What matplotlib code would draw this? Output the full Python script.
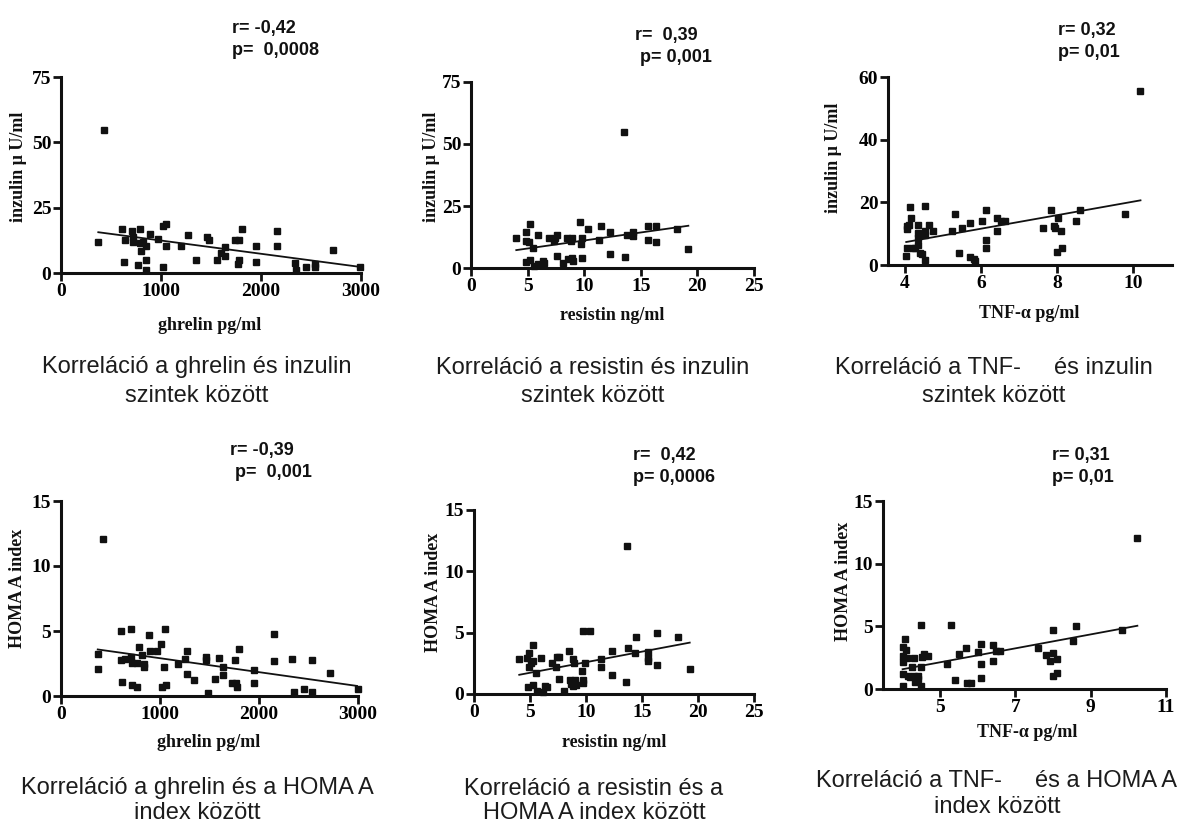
import matplotlib.pyplot as plt
import numpy as np

# ghrelin (pg/ml) vs inzulin
ghr_ins_x = [373, 430, 607, 630, 643, 707, 717, 717, 770, 790, 790, 800, 823, 847, 847, 847,
             890, 973, 1017, 1023, 1050, 1050, 1200, 1267, 1350, 1463, 1483, 1557, 1600, 1640,
             1640, 1740, 1777, 1767, 1783, 1807, 1950, 1950, 2157, 2157, 2337, 2353, 2450,
             2537, 2537, 2723, 2990]
ghr_ins_y = [11.7, 54.9, 17, 4.3, 12.7, 15.9, 13.7, 11.7, 3.0, 17, 11.4, 8.6, 11.7, 10.4, 5.1,
             1.3, 14.9, 13.2, 2.3, 18, 18.6, 10.4, 10.4, 14.5, 5.1, 13.9, 12.7, 5.1, 7.6, 9.9,
             6.4, 12.7, 12.7, 3.3, 5.1, 17, 10.4, 4.4, 16, 10.4, 3.8, 1.3, 2.3, 3.6, 2.3, 8.9, 2.3]

# resistin (ng/ml) vs inzulin
res_ins_x = [4.0, 4.85, 5.24, 4.88, 5.12, 4.88, 5.24, 5.47, 5.6, 5.94, 5.9, 6.4, 6.47, 6.9, 7.3,
             7.44, 7.6, 7.6, 8.1, 8.5, 8.6, 8.8, 8.9, 8.94, 9.0, 9.65, 9.7, 9.8, 9.8, 10.3, 11.3,
             11.5, 12.3, 12.3, 13.5, 13.6, 13.8, 14.35, 14.35, 15.6, 15.6, 16.3, 16.3, 18.2, 19.2]
res_ins_y = [12.2, 14.5, 17.8, 10.9, 10.3, 2.3, 3.4, 8.2, 0.8, 13.4, 1.7, 2.8, 2.0, 12.2, 10.9,
             12.2, 13.4, 4.7, 2.0, 12.2, 3.6, 10.9, 12.2, 4.2, 2.8, 18.4, 9.8, 12.2, 4.2, 15.7,
             11.4, 16.8, 14.6, 5.8, 55, 4.4, 13.4, 14.6, 13, 16.8, 11.4, 16.8, 10.3, 15.7, 7.7]

# TNF-alpha (pg/ml) vs inzulin
tnf_ins_x = [4.03, 4.04, 4.04, 4.06, 4.1, 4.13, 4.15, 4.2, 4.26, 4.33, 4.33, 4.33, 4.35, 4.39,
             4.45, 4.53, 4.53, 4.53, 4.53, 4.63, 4.73, 5.23, 5.32, 5.42, 5.5, 5.7, 5.72, 5.82,
             5.83, 6.02, 6.13, 6.13, 6.13, 6.43, 6.43, 6.53, 6.64, 7.62, 7.83, 7.91, 7.96, 8.0,
             8.03, 8.1, 8.12, 8.5, 8.6, 9.8, 10.2]
tnf_ins_y = [2.9, 5.3, 11.4, 12.5, 12.9, 18.4, 15, 5.3, 5.3, 12.9, 10.1, 6.4, 8.5, 3.9, 3.5,
             1.6, 18.9, 10.7, 9.6, 12.9, 10.7, 10.7, 16.3, 3.7, 11.8, 13.5, 2.7, 2.0, 1.4, 14,
             17.4, 8.0, 5.3, 15, 10.7, 14, 14, 11.8, 17.4, 12.5, 11.8, 4.3, 15, 10.7, 5.3, 14,
             17.4, 16.3, 55.4]

# ghrelin vs HOMA A index
ghr_homa_x = [371, 371, 428, 603, 603, 620, 643, 704, 704, 714, 714, 765, 765, 792, 816, 843,
              843, 887, 894, 967, 1015, 1025, 1045, 1052, 1062, 1186, 1257, 1271, 1271, 1348,
              1463, 1463, 1483, 1557, 1598, 1638, 1638, 1726, 1760, 1770, 1776, 1796, 1945,
              1945, 2154, 2154, 2336, 2350, 2450, 2538, 2538, 2720, 2996]
ghr_homa_y = [3.2, 2.05, 12.1, 4.97, 2.8, 1.1, 2.87, 5.14, 2.97, 2.56, 0.85, 2.56, 0.72, 3.79,
              3.12, 2.46, 2.2, 4.66, 3.43, 3.43, 3.99, 0.72, 2.25, 5.14, 0.85, 2.46, 2.87, 3.5,
              1.69, 1.23, 2.97, 2.8, 0.2, 1.28, 2.92, 2.2, 1.59, 0.97, 2.8, 0.97, 0.72, 3.58,
              2.0, 0.97, 4.76, 2.71, 2.87, 0.33, 0.56, 2.8, 0.33, 1.79, 0.56]

# resistin vs HOMA A index
res_homa_x = [4.04, 4.76, 4.85, 4.88, 4.94, 5.05, 5.23, 5.23, 5.29, 5.5, 5.59, 6.0, 6.12, 6.3,
              6.48, 6.93, 7.28, 7.43, 7.61, 7.61, 8.03, 8.5, 8.56, 8.68, 8.8, 8.8, 8.89, 8.98,
              9.07, 9.6, 9.69, 9.75, 9.69, 9.9, 10.34, 11.33, 11.36, 12.3, 12.3, 13.6, 13.67,
              13.73, 14.4, 14.45, 15.58, 15.58, 15.58, 16.3, 16.35, 18.2, 19.26]
res_homa_y = [2.83, 2.93, 0.6, 3.37, 2.23, 2.5, 3.97, 0.71, 2.72, 1.74, 0.27, 2.93, 0.19, 0.65,
              0.6, 2.55, 2.23, 3.04, 2.99, 1.25, 0.27, 3.48, 1.14, 0.82, 0.65, 2.83, 2.55, 1.14,
              0.71, 1.9, 0.87, 1.14, 5.1, 2.5, 5.1, 2.17, 2.83, 3.48, 1.55, 0.98, 12.1, 3.75,
              3.37, 4.62, 3.42, 2.93, 2.72, 4.95, 2.39, 4.67, 2.07]

# TNF-alpha vs HOMA A index
tnf_homa_x = [4.01, 4.01, 4.01, 4.01, 4.01, 4.08, 4.1, 4.12, 4.15, 4.2, 4.27, 4.3, 4.3, 4.34,
              4.41, 4.41, 4.49, 4.5, 4.5, 4.53, 4.59, 4.69, 5.19, 5.3, 5.41, 5.5, 5.69, 5.73,
              5.82, 6.0, 6.1, 6.1, 6.1, 6.4, 6.4, 6.5, 6.59, 7.6, 7.81, 7.92, 8.0, 8.0, 8.0,
              8.12, 8.12, 8.52, 8.61, 9.82, 10.24]
tnf_homa_y = [0.27, 1.22, 2.12, 2.6, 3.35, 3.98, 3.08, 2.47, 1.06, 0.96, 1.75, 2.5, 1.06, 0.58,
              1.06, 0.8, 1.75, 0.21, 5.1, 2.55, 2.76, 2.65, 2.02, 5.1, 0.69, 2.81, 3.29, 0.48,
              0.48, 2.92, 3.56, 2.02, 0.88, 3.5, 2.23, 3.03, 3.03, 3.24, 2.71, 2.23, 4.67, 2.87,
              1.0, 2.39, 1.27, 3.82, 4.99, 4.67, 12.05]

stats = [("r= -0,42", "p=  0,0008"), ("r=  0,39", " p= 0,001"), ("r= 0,32", "p= 0,01"),
         ("r= -0,39", " p=  0,001"), ("r=  0,42", "p= 0,0006"), ("r= 0,31", "p= 0,01")]
xlabels = ["ghrelin pg/ml", "resistin ng/ml", "TNF-α pg/ml"] * 2
ylabels = ["inzulin μ U/ml"] * 3 + ["HOMA A index"] * 3
captions = [("Korreláció a ghrelin és inzulin", "szintek között"),
            ("Korreláció a resistin és inzulin", "szintek között"),
            ("Korreláció a TNF-     és inzulin", "szintek között"),
            ("Korreláció a ghrelin és a HOMA A", "index között"),
            ("Korreláció a resistin és a", "HOMA A index között"),
            ("Korreláció a TNF-     és a HOMA A", "index között")]

W, H = 1187, 822
fig = plt.figure(figsize=(W / 100, H / 100), dpi=100)

# pixel layout: axes box (left, right, top, bottom), ylabel, xlabel, stats,
# caption centre x and the two caption line centres
panels = [
    dict(x=ghr_ins_x, y=ghr_ins_y, box=(61, 361, 77, 273), xlim=(0, 3000), ylim=(0, 75),
         xt=[0, 1000, 2000, 3000], yt=[0, 25, 50, 75],
         yl=(19, 167), xl=(210, 325), st=(232, 20), cap=(197, 365, 393)),
    dict(x=res_ins_x, y=res_ins_y, box=(471, 754, 82, 268), xlim=(0, 25), ylim=(0, 75),
         xt=[0, 5, 10, 15, 20, 25], yt=[0, 25, 50, 75],
         yl=(431, 167), xl=(612, 316), st=(635, 27), cap=(593, 365, 393)),
    dict(x=tnf_ins_x, y=tnf_ins_y, box=(888, 1172, 77, 265), xlim=(3.55, 11.03), ylim=(0, 60),
         xt=[4, 6, 8, 10], yt=[0, 20, 40, 60],
         yl=(833, 158), xl=(1029, 313), st=(1058, 22), cap=(994, 365, 393)),
    dict(x=ghr_homa_x, y=ghr_homa_y, box=(61, 358, 501, 696), xlim=(0, 3000), ylim=(0, 15),
         xt=[0, 1000, 2000, 3000], yt=[0, 5, 10, 15],
         yl=(18, 588), xl=(209, 742), st=(230, 442), cap=(197, 785, 810)),
    dict(x=res_homa_x, y=res_homa_y, box=(474, 754, 510, 694), xlim=(0, 25), ylim=(0, 15),
         xt=[0, 5, 10, 15, 20, 25], yt=[0, 5, 10, 15],
         yl=(434, 592), xl=(614, 742), st=(633, 447), cap=(594, 786, 810)),
    dict(x=tnf_homa_x, y=tnf_homa_y, box=(883, 1166, 501, 689), xlim=(3.49, 11), ylim=(0, 15),
         xt=[5, 7, 9, 11], yt=[0, 5, 10, 15],
         yl=(843, 581), xl=(1027, 732), st=(1052, 447), cap=(997, 778, 804)),
]

serif = "Liberation Serif"
sans = "Liberation Sans"
ink = "#111111"

for i, p in enumerate(panels):
    l, r, t, b = p["box"]
    ax = fig.add_axes([l / W, 1 - b / H, (r - l) / W, (b - t) / H])
    x = np.array(p["x"])
    y = np.array(p["y"])
    ax.plot(x, y, "s", color=ink, ms=3.8, clip_on=False, zorder=3)
    # linear regression line over the data range
    k, c = np.polyfit(x, y, 1)
    xs = np.array([x.min(), x.max()])
    ax.plot(xs, k * xs + c, color=ink, lw=1.3, zorder=2)
    ax.set_xlim(*p["xlim"])
    ax.set_ylim(*p["ylim"])
    ax.set_xticks(p["xt"])
    ax.set_yticks(p["yt"])
    for s in ["top", "right"]:
        ax.spines[s].set_visible(False)
    for s in ["left", "bottom"]:
        ax.spines[s].set_linewidth(2.2)
        ax.spines[s].set_color(ink)
    ax.tick_params(direction="out", length=6, width=2, color=ink, labelsize=14, pad=1)
    for lab in ax.get_xticklabels() + ax.get_yticklabels():
        lab.set_fontfamily(serif)
        lab.set_fontweight("bold")
    ax.patch.set_alpha(0)

    fig.text(p["yl"][0] / W, 1 - p["yl"][1] / H, ylabels[i], rotation=90, ha="center",
             va="center", family=serif, weight="bold", size=13, color=ink)
    fig.text(p["xl"][0] / W, 1 - p["xl"][1] / H, xlabels[i], ha="center", va="center",
             family=serif, weight="bold", size=13, color=ink)
    fig.text(p["st"][0] / W, 1 - p["st"][1] / H, stats[i][0] + "\n" + stats[i][1],
             ha="left", va="top", family=sans, weight="bold", size=13, color=ink,
             linespacing=1.35)
    cx, cy1, cy2 = p["cap"]
    for line, cy in zip(captions[i], (cy1, cy2)):
        fig.text(cx / W, 1 - cy / H, line, ha="center", va="center_baseline",
                 family=sans, size=17, color="#1c1c1c")

fig.savefig("out.png", dpi=100)
